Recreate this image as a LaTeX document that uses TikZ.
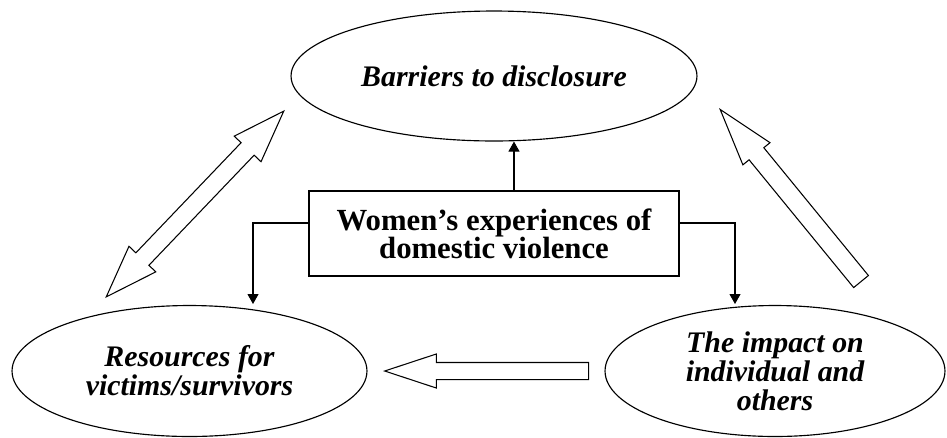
\documentclass[tikz,border=0pt]{standalone}
\usepackage{fontspec}
\setmainfont{Liberation Serif}
\usetikzlibrary{arrows.meta,shapes.geometric,shapes.arrows,positioning}

\begin{document}
\begin{tikzpicture}[
  x=0.02cm,y=-0.02cm,
  topic/.style={ellipse,draw,line width=0.65pt,inner sep=0pt,align=center,font=\fontsize{17}{16.5}\selectfont\bfseries\itshape},
  core/.style={rectangle,draw,line width=0.9pt,inner sep=0pt,align=center,minimum width=7.4cm,minimum height=1.7cm,font=\fontsize{17.5}{16}\selectfont\bfseries},
  link/.style={-{Triangle[length=0.2cm,width=0.22cm]},line width=0.6pt},
  block/.style={draw,line width=0.6pt,fill=white,inner xsep=0pt}
]
  \useasboundingbox (0,0) rectangle (947,437);

  % ellipses
  \node[topic,minimum width=8.12cm,minimum height=2.6cm] (bar) at (494,76) {Barriers to disclosure};
  \node[topic,minimum width=7.1cm,minimum height=2.62cm] (res) at (189.5,371) {Resources for\\victims/survivors};
  \node[topic,minimum width=6.8cm,minimum height=2.62cm] (imp) at (775,371) {The impact on\\individual and\\others};

  % central box
  \node[core] (box) at (494,233.5) {Women’s experiences of\\domestic violence};

  \coordinate (lend) at (253,304);
  \coordinate (rend) at (735,304);

  \draw[link] ([xshift=0.4cm]box.north) -- ([xshift=0.4cm]bar.south);
  \draw[link] ([yshift=0.21cm]box.west) -| (lend);
  \draw[link] ([yshift=0.21cm]box.east) -| (rend);

  % block arrows
  \node[double arrow,block,minimum height=5.14cm,double arrow head extend=0.19cm,double arrow tip angle=39,inner ysep=0.17cm,rotate=46.3] (rb) at (195,204) {};
  \node[single arrow,block,minimum height=4.45cm,single arrow head extend=0.16cm,single arrow tip angle=34,inner ysep=0.18cm,rotate=129.3,anchor=tip] (ib) at (719,108) {};
  \node[single arrow,block,minimum height=4.08cm,single arrow head extend=0.17cm,single arrow tip angle=36.5,inner ysep=0.16cm,rotate=180,anchor=tip] (ir) at (383,371) {};
\end{tikzpicture}
\end{document}
